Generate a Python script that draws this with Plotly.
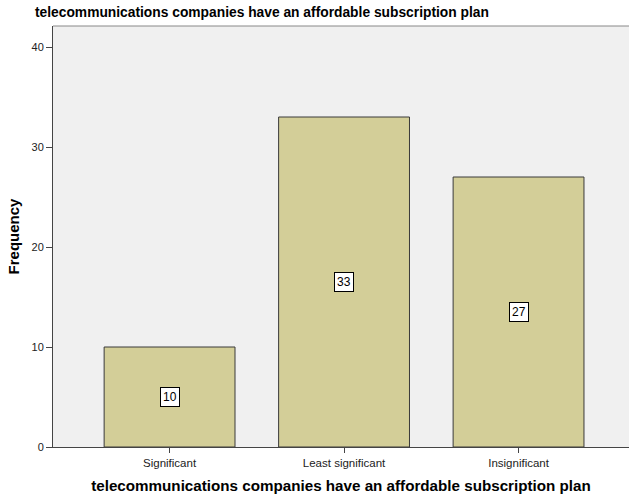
import plotly.graph_objects as go

# Response categories and their counts
categories = ["Significant", "Least significant", "Insignificant"]
frequencies = [10, 33, 27]
y_ticks = [0, 10, 20, 30, 40]

title_text = "telecommunications companies have an affordable subscription plan"

W, H = 629, 499
L, R, T, B = 53, 0, 26, 52

fig = go.Figure()
fig.add_trace(go.Bar(
    x=list(range(len(categories))),
    y=frequencies,
    width=0.75,
    marker=dict(color="#d3ce98", line=dict(color="#3a3a3a", width=1)),
    hoverinfo="skip",
))

# Count labels in white boxes at mid-height of each bar
for i, v in enumerate(frequencies):
    fig.add_annotation(
        x=i, y=v / 2, text=str(v), showarrow=False,
        font=dict(family="Liberation Sans, Arial", size=12, color="#000"),
        bgcolor="white", bordercolor="#000", borderwidth=1, borderpad=2,
    )

fig.update_layout(
    width=W, height=H,
    margin=dict(l=L, r=R, t=T, b=B),
    paper_bgcolor="white",
    plot_bgcolor="#f0f0f0",
    showlegend=False,
    font=dict(family="Liberation Sans, Arial", color="#222"),
    xaxis=dict(
        range=[-0.668, 2.633],
        tickmode="array",
        tickvals=list(range(len(categories))),
        ticktext=categories,
        ticks="outside", ticklen=5, tickcolor="#444", tickwidth=1,
        tickfont=dict(size=11.5, color="#222"),
        showline=True, linecolor="#444", linewidth=1,
        showgrid=False, zeroline=False,
        title=dict(text="<b>" + title_text + "</b>",
                   font=dict(size=15.2, color="#000"), standoff=12),
    ),
    yaxis=dict(
        range=[0, 42.1],
        tickmode="array",
        tickvals=y_ticks,
        ticks="outside", ticklen=6, tickcolor="#444", tickwidth=1,
        tickfont=dict(size=11, color="#222"),
        showline=True, linecolor="#444", linewidth=1,
        showgrid=False, zeroline=False,
        title=dict(text="<b>Frequency</b>",
                   font=dict(size=15, color="#000"), standoff=8),
    ),
)

# Chart title above the plot frame
fig.add_annotation(
    xref="paper", yref="paper",
    x=(262 - L) / (W - L - R), y=1, yshift=14,
    xanchor="center", yanchor="middle",
    text="<b>" + title_text + "</b>", showarrow=False,
    font=dict(family="Liberation Sans, Arial", size=13.8, color="#000"),
)

# Top edge of the plot frame
fig.add_shape(type="line", xref="paper", yref="paper",
              x0=0, x1=1, y0=1, y1=1,
              line=dict(color="#888", width=1))

fig.write_html("out.html")
